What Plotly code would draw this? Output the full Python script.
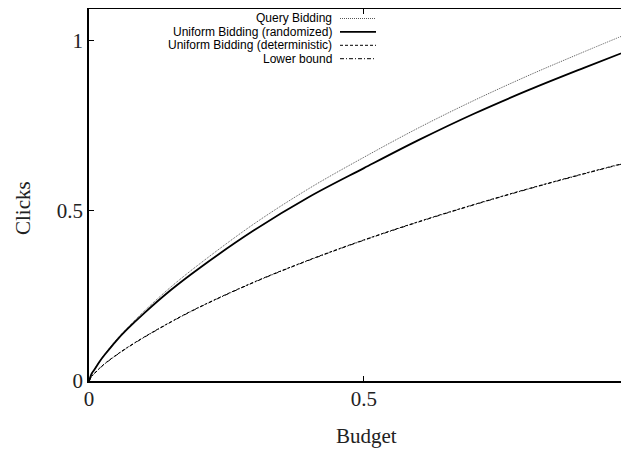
import plotly.graph_objects as go

budget = [0, 0.005, 0.01, 0.02, 0.03, 0.05, 0.07, 0.1, 0.15, 0.2, 0.3, 0.4, 0.5, 0.6, 0.7, 0.8, 0.9, 1.0]
query_bidding = [0, 0.022, 0.035, 0.060, 0.082, 0.122, 0.157, 0.205, 0.278, 0.343, 0.462, 0.566, 0.658, 0.745, 0.825, 0.899, 0.968, 1.035]
uniform_random = [0, 0.022, 0.034, 0.059, 0.080, 0.119, 0.153, 0.199, 0.269, 0.331, 0.443, 0.541, 0.626, 0.709, 0.786, 0.856, 0.921, 0.984]
uniform_determ = [0, 0.014, 0.023, 0.039, 0.053, 0.077, 0.099, 0.129, 0.175, 0.217, 0.291, 0.356, 0.415, 0.469, 0.519, 0.566, 0.610, 0.652]
lower_bound = [0, 0.013, 0.022, 0.038, 0.052, 0.076, 0.098, 0.128, 0.174, 0.216, 0.290, 0.355, 0.414, 0.468, 0.518, 0.565, 0.609, 0.651]

x_ticks = [0, 0.5, 1]
y_ticks = [0, 0.5, 1]

series = [
    ("Query Bidding", query_bidding, dict(color="#555555", width=1, dash="1px,1px")),
    ("Uniform Bidding (randomized)", uniform_random, dict(color="black", width=1.8, dash="solid")),
    ("Uniform Bidding (deterministic)", uniform_determ, dict(color="black", width=1, dash="3px,2px")),
    ("Lower bound", lower_bound, dict(color="black", width=1, dash="4px,2px,1px,2px")),
]

fig = go.Figure()
for name, ys, ln in series:
    fig.add_trace(go.Scatter(x=budget, y=ys, mode="lines", name=name, line=dict(shape="spline", **ln),
                             showlegend=False))

# page body margin offsets the figure by 8px; plot area is 540 x 372 px (page x 89..629, y 9..381)
PL, PT, PW, PH = 89, 9, 540, 372


def px(x):
    return (x - PL) / PW


def py(y):
    return (PT + PH - y) / PH


leg_px = [18.5, 31.9, 45.3, 58.7]
for (name, ys, ln), yp in zip(series, leg_px):
    fig.add_annotation(x=px(333), y=py(yp), xref="paper", yref="paper", text=name, showarrow=False,
                       xanchor="right", yanchor="middle", borderpad=0,
                       font=dict(family="Liberation Sans", size=12, color="black"))
    fig.add_shape(type="line", xref="paper", yref="paper", x0=px(340), x1=px(376),
                  y0=py(yp), y1=py(yp), line=ln)

axis_font = dict(family="Liberation Serif", size=21, color="#222222")
fig.add_annotation(x=px(366), y=py(436), xref="paper", yref="paper", text="Budget", showarrow=False,
                   xanchor="center", yanchor="middle", font=axis_font)
fig.add_annotation(x=px(23), y=py(208), xref="paper", yref="paper", text="Clicks", showarrow=False,
                   textangle=-90, xanchor="center", yanchor="middle", font=axis_font)

fig.update_layout(
    width=621, height=443,
    margin=dict(l=81, r=0, t=1, b=70),
    plot_bgcolor="white", paper_bgcolor="white",
    xaxis=dict(range=[0, 0.982], tickvals=x_ticks, ticktext=["0", "0.5", "1"], automargin=False,
               showgrid=False, zeroline=False, showline=True, linecolor="black", linewidth=1.5,
               mirror="ticks", ticks="inside", ticklen=5, tickcolor="black", tickwidth=1,
               ticklabelstandoff=-2, tickfont=axis_font),
    yaxis=dict(range=[0, 1.094], tickvals=y_ticks, ticktext=["0", "0.5", "1"], automargin=False,
               showgrid=False, zeroline=False, showline=True, linecolor="black", linewidth=1.5,
               mirror=False, ticks="inside", ticklen=5, tickcolor="black", tickwidth=1,
               tickfont=axis_font),
)

fig.write_html("out.html")
